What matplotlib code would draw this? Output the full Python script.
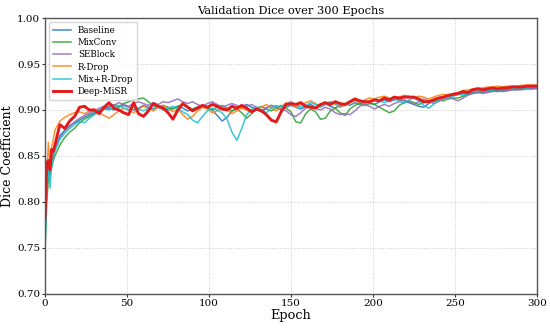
import numpy as np
import matplotlib
matplotlib.use("Agg")
import matplotlib.pyplot as plt

epochs = [0, 1, 2, 3, 4, 5, 6] + list(range(9, 301, 3))

baseline = [0.765, 0.815, 0.835, 0.830, 0.845, 0.850, 0.858,
    0.872, 0.878, 0.883, 0.886, 0.889, 0.892, 0.895, 0.897, 0.900,
    0.901, 0.902, 0.900, 0.903, 0.905, 0.903, 0.900, 0.902, 0.905, 0.903,
    0.901, 0.904, 0.903, 0.900, 0.902, 0.904, 0.902, 0.899, 0.901, 0.903,
    0.905, 0.903, 0.900, 0.894, 0.888, 0.892, 0.899, 0.902, 0.904, 0.906,
    0.903, 0.901, 0.898, 0.902, 0.905, 0.903, 0.900, 0.903, 0.905, 0.903,
    0.901, 0.904, 0.906, 0.903, 0.905, 0.907, 0.904, 0.902, 0.905, 0.907,
    0.905, 0.908, 0.906, 0.909, 0.908, 0.906, 0.909, 0.911, 0.909, 0.911,
    0.912, 0.910, 0.908, 0.906, 0.904, 0.903, 0.907, 0.910, 0.912, 0.913,
    0.915, 0.916, 0.917, 0.918, 0.917, 0.919, 0.920, 0.919, 0.920, 0.921,
    0.920, 0.921, 0.921, 0.922, 0.922, 0.923, 0.923, 0.923, 0.924]

mixconv = [0.750, 0.800, 0.825, 0.832, 0.838, 0.845, 0.850,
    0.862, 0.870, 0.876, 0.880, 0.886, 0.890, 0.893, 0.896, 0.899,
    0.902, 0.904, 0.906, 0.904, 0.907, 0.909, 0.911, 0.912, 0.913, 0.909,
    0.905, 0.903, 0.905, 0.903, 0.901, 0.904, 0.906, 0.903, 0.901, 0.903,
    0.905, 0.902, 0.900, 0.903, 0.905, 0.902, 0.899, 0.901, 0.897, 0.891,
    0.896, 0.902, 0.904, 0.901, 0.899, 0.902, 0.905, 0.902, 0.898, 0.887,
    0.886, 0.896, 0.901, 0.898, 0.890, 0.891, 0.899, 0.902, 0.897, 0.894,
    0.901, 0.905, 0.907, 0.905, 0.907, 0.906, 0.903, 0.900, 0.897, 0.899,
    0.905, 0.908, 0.910, 0.908, 0.906, 0.908, 0.910, 0.909, 0.911, 0.910,
    0.912, 0.913, 0.913, 0.915, 0.917, 0.918, 0.919, 0.920, 0.921, 0.921,
    0.922, 0.922, 0.923, 0.923, 0.923, 0.924, 0.924, 0.924, 0.925]

seblock = [0.770, 0.825, 0.838, 0.835, 0.848, 0.852, 0.860,
    0.870, 0.877, 0.882, 0.887, 0.891, 0.894, 0.897, 0.899, 0.902,
    0.904, 0.903, 0.905, 0.908, 0.906, 0.904, 0.907, 0.909, 0.907, 0.905,
    0.908, 0.906, 0.909, 0.908, 0.910, 0.912, 0.909, 0.907, 0.909, 0.906,
    0.904, 0.907, 0.909, 0.906, 0.903, 0.905, 0.907, 0.905, 0.902, 0.904,
    0.906, 0.903, 0.900, 0.902, 0.905, 0.903, 0.901, 0.899, 0.895, 0.893,
    0.897, 0.902, 0.904, 0.902, 0.900, 0.903, 0.901, 0.897, 0.895, 0.896,
    0.895, 0.899, 0.904, 0.906, 0.904, 0.901, 0.904, 0.906, 0.904, 0.907,
    0.909, 0.911, 0.909, 0.906, 0.909, 0.912, 0.910, 0.907, 0.909, 0.912,
    0.914, 0.912, 0.910, 0.913, 0.916, 0.918, 0.919, 0.918, 0.919, 0.920,
    0.921, 0.920, 0.921, 0.922, 0.922, 0.922, 0.923, 0.923, 0.923]

rdrop = [0.780, 0.830, 0.865, 0.840, 0.860, 0.868, 0.878,
    0.888, 0.892, 0.895, 0.897, 0.898, 0.896, 0.899, 0.901, 0.897,
    0.894, 0.891, 0.895, 0.899, 0.902, 0.900, 0.897, 0.901, 0.904, 0.902,
    0.899, 0.903, 0.905, 0.902, 0.898, 0.901, 0.895, 0.890, 0.893, 0.899,
    0.903, 0.901, 0.897, 0.899, 0.903, 0.900, 0.896, 0.899, 0.902, 0.900,
    0.897, 0.900, 0.903, 0.906, 0.902, 0.899, 0.903, 0.908, 0.906, 0.903,
    0.905, 0.908, 0.910, 0.907, 0.904, 0.906, 0.909, 0.906, 0.903, 0.905,
    0.908, 0.910, 0.908, 0.911, 0.913, 0.912, 0.914, 0.915, 0.913, 0.912,
    0.914, 0.916, 0.915, 0.913, 0.915, 0.914, 0.912, 0.914, 0.916, 0.917,
    0.916, 0.918, 0.919, 0.921, 0.922, 0.923, 0.924, 0.924, 0.925, 0.925,
    0.926, 0.925, 0.926, 0.926, 0.926, 0.927, 0.927, 0.927, 0.927]

mix_rdrop = [0.750, 0.810, 0.840, 0.815, 0.840, 0.848, 0.855,
    0.868, 0.875, 0.880, 0.884, 0.888, 0.886, 0.891, 0.895, 0.898,
    0.901, 0.900, 0.903, 0.905, 0.902, 0.900, 0.903, 0.901, 0.899, 0.902,
    0.905, 0.903, 0.900, 0.902, 0.904, 0.901, 0.898, 0.895, 0.889, 0.886,
    0.893, 0.899, 0.902, 0.900, 0.897, 0.890, 0.876, 0.867, 0.880, 0.895,
    0.901, 0.903, 0.900, 0.897, 0.902, 0.905, 0.903, 0.906, 0.909, 0.906,
    0.903, 0.905, 0.908, 0.906, 0.903, 0.906, 0.909, 0.907, 0.904, 0.906,
    0.909, 0.911, 0.909, 0.907, 0.909, 0.912, 0.910, 0.908, 0.910, 0.912,
    0.910, 0.907, 0.911, 0.913, 0.910, 0.905, 0.902, 0.906, 0.911, 0.914,
    0.913, 0.915, 0.917, 0.916, 0.918, 0.920, 0.921, 0.920, 0.921, 0.922,
    0.922, 0.923, 0.922, 0.923, 0.924, 0.924, 0.924, 0.925, 0.925]

deep_misr = [0.782, 0.843, 0.845, 0.835, 0.857, 0.855, 0.862,
    0.884, 0.880, 0.888, 0.893, 0.903, 0.904, 0.900, 0.900, 0.896,
    0.903, 0.908, 0.902, 0.900, 0.897, 0.895, 0.908, 0.896, 0.893, 0.899,
    0.907, 0.904, 0.902, 0.897, 0.890, 0.900, 0.907, 0.903, 0.899, 0.902,
    0.905, 0.903, 0.906, 0.904, 0.901, 0.900, 0.904, 0.902, 0.905, 0.902,
    0.898, 0.901, 0.899, 0.895, 0.889, 0.887, 0.898, 0.906, 0.907, 0.906,
    0.908, 0.904, 0.903, 0.902, 0.906, 0.908, 0.906, 0.909, 0.907, 0.906,
    0.909, 0.912, 0.910, 0.909, 0.909, 0.911, 0.910, 0.913, 0.911, 0.914,
    0.913, 0.914, 0.914, 0.914, 0.912, 0.909, 0.909, 0.911, 0.913, 0.914,
    0.916, 0.917, 0.918, 0.920, 0.919, 0.922, 0.923, 0.922, 0.923, 0.924,
    0.923, 0.924, 0.924, 0.925, 0.925, 0.925, 0.926, 0.926, 0.926]

series = [
    ("Baseline", baseline, "#1f77b4", 1.1, 0.85),
    ("MixConv", mixconv, "#2ca02c", 1.1, 0.85),
    ("SEBlock", seblock, "#9467bd", 1.1, 0.85),
    ("R-Drop", rdrop, "#ff7f0e", 1.1, 0.85),
    ("Mix+R-Drop", mix_rdrop, "#17becf", 1.1, 0.85),
    ("Deep-MiSR", deep_misr, "#e31a1c", 2.1, 1.0),
]

plt.rcParams['font.family'] = ['DejaVu Serif']
fig = plt.figure(figsize=(5.5, 3.28), dpi=100)
ax = fig.add_axes([0.082, 0.104, 0.894, 0.841])

for name, vals, col, lw, a in series:
    ax.plot(epochs, vals, color=col, lw=lw, alpha=a, label=name)

ax.set_xlim(0, 300)
ax.set_ylim(0.70, 1.00)
ax.set_xticks([0, 50, 100, 150, 200, 250, 300])
ax.set_yticks([0.70, 0.75, 0.80, 0.85, 0.90, 0.95, 1.00])
ax.yaxis.set_major_formatter(matplotlib.ticker.FormatStrFormatter('%.2f'))
ax.tick_params(labelsize=7.5, length=2.0, width=0.8, colors='#333333', labelcolor='black', pad=1.5)
ax.grid(True, linestyle=':', color='#cccccc', linewidth=0.7)
for s in ax.spines.values():
    s.set_color('#555555')
    s.set_linewidth(1.0)

ax.set_title("Validation Dice over 300 Epochs", fontsize=8.2, pad=3)
ax.set_xlabel("Epoch", fontsize=9.3, labelpad=1)
ax.set_ylabel("Dice Coefficient", fontsize=9.0, labelpad=2)
leg = ax.legend(loc='upper left', fontsize=6.3, frameon=True, fancybox=True,
                handlelength=2.0, borderpad=0.45, labelspacing=0.35, handletextpad=0.8)
leg.get_frame().set_edgecolor('#cccccc')

fig.savefig("out.png", dpi=100)
